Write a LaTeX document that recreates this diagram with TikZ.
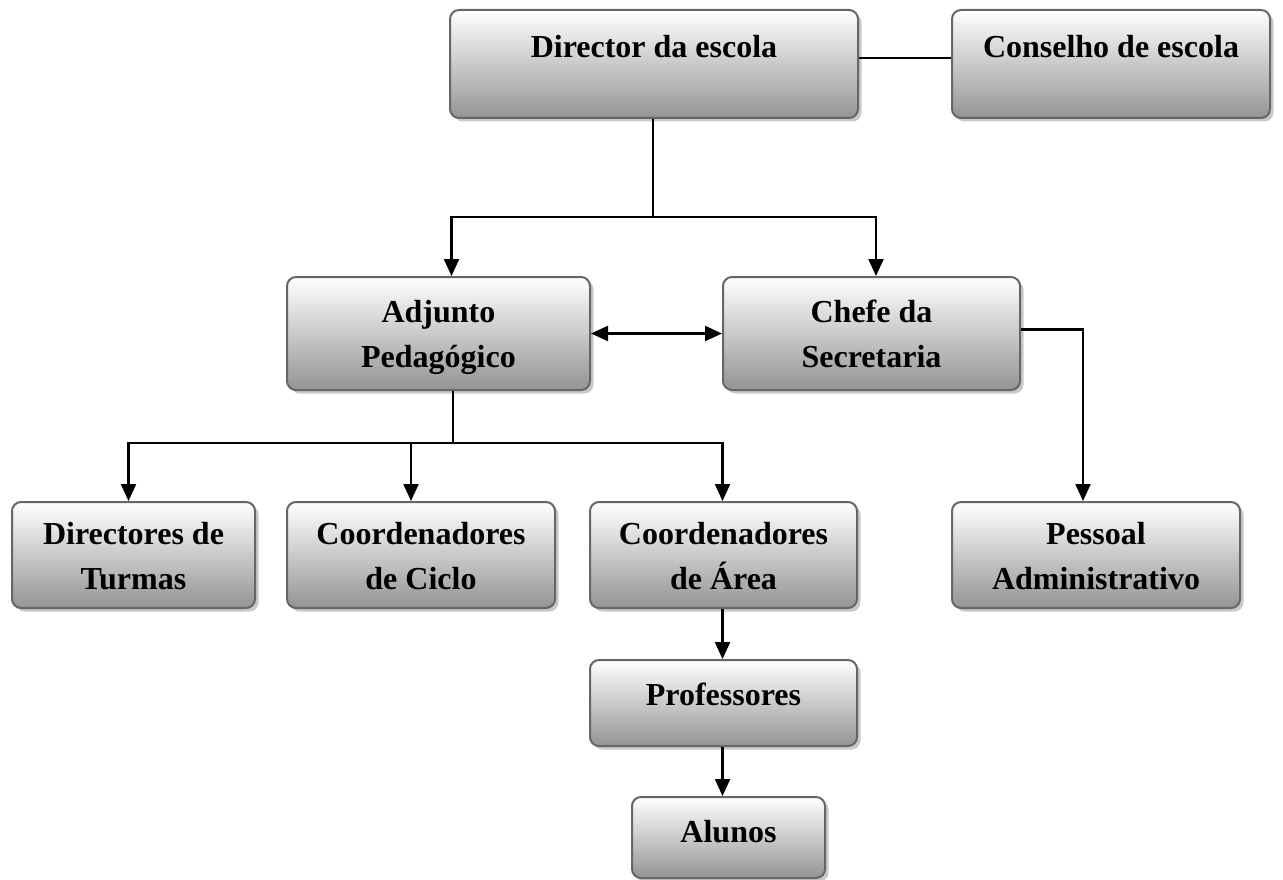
\documentclass[tikz,border=0pt]{standalone}
\usepackage{fontspec}
\setmainfont{Liberation Serif}
\usetikzlibrary{arrows.meta,shadows,calc}
\begin{document}
\begin{tikzpicture}[x=1pt,y=-1pt,
  box/.style={draw=black!60, line width=2pt, rounded corners=9pt,
    top color=white, bottom color=black!42,
    drop shadow={shadow xshift=3.5pt,shadow yshift=-3.5pt,fill=black!30,opacity=0.7},
    align=center, font=\fontsize{32}{45}\selectfont\bfseries, inner sep=0pt},
  two/.style={text height=68pt, text depth=0pt},
  conn/.style={line width=2.2pt},
  arr/.style={line width=2.2pt,-{Triangle[length=17pt,width=15pt]}},
  darr/.style={line width=2.2pt,{Triangle[length=17pt,width=15pt]}-{Triangle[length=17pt,width=15pt]}}]
\useasboundingbox (0,0) rectangle (1283,880);
% boxes
\node[box, minimum width=408pt, minimum height=108pt, text height=22pt, text depth=35pt] (dir) at (654,64) {Director da escola};
\node[box, minimum width=318pt, minimum height=108pt, text height=22pt, text depth=35pt] (cons) at (1111,64) {Conselho de escola};
\node[box, two, minimum width=303pt, minimum height=113pt] (adj) at (438.5,333.5) {Adjunto\\Pedagógico};
\node[box, two, minimum width=297pt, minimum height=113pt] (chefe) at (871.5,333.5) {Chefe da\\Secretaria};
\node[box, two, minimum width=243pt, minimum height=106pt] (dt) at (133.5,555) {Directores de\\Turmas};
\node[box, two, minimum width=268pt, minimum height=106pt] (cc) at (421,555) {Coordenadores\\de Ciclo};
\node[box, two, minimum width=267pt, minimum height=106pt] (ca) at (723.5,555) {Coordenadores\\de Área};
\node[box, two, minimum width=288pt, minimum height=106pt] (pa) at (1096,555) {Pessoal\\Administrativo};
\node[box, minimum width=267pt, minimum height=86pt, text height=22pt, text depth=17pt] (prof) at (723.5,703) {Professores};
\node[box, minimum width=193pt, minimum height=81pt, text height=22pt, text depth=12pt] (alu) at (728.5,837.5) {Alunos};
% connectors
\draw[conn] ([yshift=6pt]dir.east) -- ([yshift=6pt]cons.west);
\draw[conn] ([xshift=-1pt]dir.south) -- ++(0,98) coordinate (j1);
\draw[arr] (j1) -| ([xshift=13pt]adj.north);
\draw[arr] (j1) -| ([xshift=4.5pt]chefe.north);
\draw[darr] (adj.east) -- (chefe.west);
\draw[arr] ([yshift=4pt]chefe.east) -| ([xshift=-13pt]pa.north);
\draw[conn] ([xshift=14.5pt]adj.south) -- ++(0,52) coordinate (j2);
\draw[arr] (j2) -| ([xshift=-5pt]dt.north);
\draw[arr] (j2) -| ([xshift=-10pt]cc.north);
\draw[arr] (j2) -| ([xshift=-1pt]ca.north);
\draw[arr] ([xshift=-1pt]ca.south) -- ([xshift=-1pt]prof.north);
\draw[arr] ([xshift=-1pt]prof.south) -- ([xshift=-1pt]prof.south |- alu.north);
\end{tikzpicture}
\end{document}
